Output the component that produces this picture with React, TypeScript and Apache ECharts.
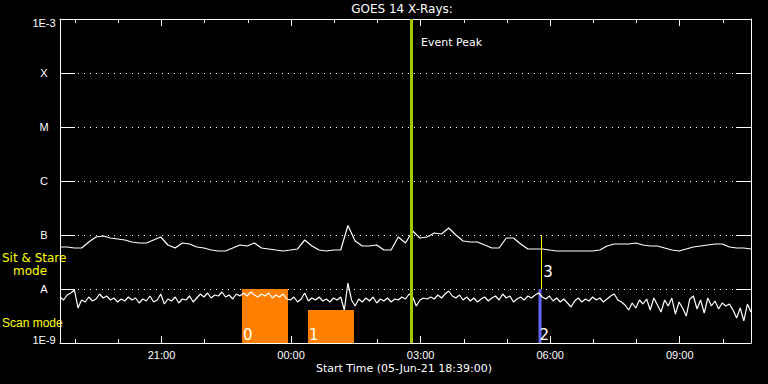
import React, { useEffect, useRef } from "react";
import * as echarts from "echarts";

// Time axis: hours since 05-Jun-21 00:00 (start 18:39, 16 h span)
const START = 18.65;
const END = 34.65;
const LONG_STEP = 1 / 6; // 10 min sampling
const SHORT_STEP = 1 / 12; // 5 min sampling

// GOES 1-8 Å flux, units of 1e-9 W/m²
const longFlux = [
  59.9, 59.9, 57.4, 57.4, 74.2, 91.8, 95.8, 88.0, 84.3, 80.8,
  74.2, 71.1, 71.1, 80.8, 91.8, 65.3, 57.4, 71.1, 68.1, 59.9,
  57.4, 52.7, 50.5, 50.5, 57.4, 65.3, 62.6, 71.1, 57.4, 55.1,
  52.7, 50.5, 52.7, 55.1, 80.8, 62.6, 52.7, 50.5, 52.7, 52.7,
  150, 77.4, 62.6, 62.6, 65.3, 52.7, 52.7, 91.8, 71.1, 118.6,
  88.0, 91.8, 108.8, 104.3, 134.8, 100, 77.4, 74.2, 74.2, 65.3,
  57.4, 57.4, 88.0, 88.0, 68.1, 55.1, 55.1, 55.1, 52.7, 50.5,
  50.5, 50.5, 50.5, 50.5, 50.5, 52.7, 62.6, 68.1, 68.1, 68.1,
  71.1, 65.3, 62.6, 62.6, 57.4, 52.7, 50.5, 55.1, 59.9, 62.6,
  65.3, 68.1, 68.1, 59.9, 57.4, 57.4, 55.1,
];

// GOES 0.5-4 Å flux, units of 1e-9 W/m²
const shortFlux = [
  7.11, 6.26, 7.74, 8.43, 9.58, 4.45, 6.26, 5.74, 7.11, 5.99,
  6.53, 8.08, 6.81, 7.42, 6.26, 6.81, 5.74, 6.53, 5.99, 7.11,
  6.26, 6.81, 5.51, 6.53, 5.99, 7.42, 5.74, 6.26, 8.08, 5.27,
  6.53, 5.99, 7.11, 5.51, 6.53, 6.26, 7.42, 5.74, 6.81, 8.08,
  7.11, 8.43, 6.81, 7.74, 7.42, 8.80, 7.11, 7.74, 6.53, 8.08,
  7.42, 8.43, 7.42, 8.80, 7.74, 7.11, 8.08, 7.42, 8.43, 6.81,
  7.74, 7.11, 8.08, 6.53, 6.26, 7.11, 5.74, 6.53, 8.43, 5.99,
  6.81, 6.26, 7.11, 5.99, 6.53, 5.74, 6.81, 6.26, 7.11, 4.08,
  12.9, 6.26, 4.84, 6.53, 5.74, 6.81, 5.99, 7.11, 5.51, 6.53,
  5.99, 6.81, 5.74, 6.53, 6.26, 7.11, 6.53, 8.08, 7.11, 4.84,
  6.26, 6.81, 6.53, 7.11, 6.53, 7.74, 6.81, 8.08, 9.18, 7.42,
  6.81, 7.74, 6.26, 7.11, 5.99, 6.81, 5.74, 6.53, 7.11, 5.99,
  6.81, 7.42, 6.26, 8.08, 6.81, 7.42, 5.74, 6.53, 7.11, 6.26,
  7.42, 6.81, 7.74, 8.43, 7.11, 6.53, 7.42, 5.99, 6.81, 5.74,
  6.53, 5.51, 4.64, 5.99, 6.81, 5.74, 6.53, 5.99, 7.11, 6.26,
  6.81, 5.74, 6.53, 7.42, 8.08, 6.26, 5.74, 5.05, 4.08, 5.51,
  4.45, 6.26, 5.27, 6.53, 4.08, 6.81, 5.05, 3.75, 6.26, 4.84,
  6.81, 3.44, 5.74, 4.45, 3.16, 6.53, 7.42, 4.26, 6.26, 3.59,
  6.81, 4.84, 5.99, 4.26, 5.51, 4.84, 5.27, 4.08, 2.90, 4.45,
  2.56, 5.27, 3.75,
];

const yTickLabels = ["1E-9", "A", "B", "C", "M", "X", "1E-3"];
const xMajorHours = [21, 24, 27, 30, 33];
const xTickLabels = ["21:00", "00:00", "03:00", "06:00", "09:00"];
const xMinorHours = [19, 20, 22, 23, 25, 26, 28, 29, 31, 32, 34];

// Scan-mode windows (orange)
const scanLabels = ["0", "1"];
const scanStart = [22.864, 24.392];
const scanEnd = [23.929, 25.457];
const scanTop = [1e-8, 4.08e-9];

const eventPeakHour = 26.777;
// Event 2 (blue bar) and 3 (yellow line)
const event2Start = 29.73;
const event2End = 29.8;
const event2Top = 1e-8;
const event3Hour = 29.794;
const event3Range = [1e-8, 1e-7];
const event3LabelFlux = 2.06e-8;
const eventPeakLabelFlux = 3.6e-4;

const WHITE = "#ffffff";
const YELLOW = "#ffff00";

export default function App() {
  const ref = useRef<HTMLDivElement>(null);

  useEffect(() => {
    if (!ref.current) return;
    const chart = echarts.init(ref.current, undefined, { renderer: "svg" });

    const longData = longFlux.map((v, i) => [START + i * LONG_STEP, v * 1e-9]);
    const shortData = shortFlux.map((v, i) => [START + i * SHORT_STEP, v * 1e-9]);

    const labelFont = "Liberation Sans";
    const baseX = {
      type: "value" as const,
      min: START,
      max: END,
      splitLine: { show: false },
    };

    const yLabel = (v: number) => {
      const e = Math.round(Math.log10(v));
      const idx = e + 9;
      const s = yTickLabels[idx] ?? "";
      if (idx === 6) return "{top|" + s + "}";
      if (idx === 0) return "{bot|" + s + "}";
      return s;
    };

    chart.setOption({
      animation: false,
      backgroundColor: "#000000",
      grid: { left: 60, right: 17, top: 19, bottom: 41 },
      xAxis: [
        {
          ...baseX,
          position: "bottom",
          axisLine: { show: true, lineStyle: { color: WHITE, width: 1 } },
          axisTick: {
            show: true,
            inside: true,
            length: 7,
            customValues: xMajorHours,
            lineStyle: { color: WHITE },
          },
          axisLabel: {
            show: true,
            customValues: xMajorHours,
            formatter: (v: number) => {
              const i = xMajorHours.findIndex((h) => Math.abs(h - v) < 1e-6);
              return i >= 0 ? xTickLabels[i] : "";
            },
            color: WHITE,
            fontFamily: labelFont,
            fontSize: 11,
            margin: 6,
          },
        },
        {
          ...baseX,
          position: "bottom",
          axisLine: { show: false },
          axisTick: {
            show: true,
            inside: true,
            length: 4,
            customValues: xMinorHours,
            lineStyle: { color: WHITE },
          },
          axisLabel: { show: false },
        },
        {
          ...baseX,
          position: "top",
          axisLine: { show: true, lineStyle: { color: WHITE, width: 1 } },
          axisTick: {
            show: true,
            inside: true,
            length: 7,
            customValues: xMajorHours,
            lineStyle: { color: WHITE },
          },
          axisLabel: { show: false },
        },
        {
          ...baseX,
          position: "top",
          axisLine: { show: false },
          axisTick: {
            show: true,
            inside: true,
            length: 4,
            customValues: xMinorHours,
            lineStyle: { color: WHITE },
          },
          axisLabel: { show: false },
        },
      ],
      yAxis: [
        {
          type: "log",
          logBase: 10,
          min: 1e-9,
          max: 1e-3,
          interval: 1,
          splitNumber: 6,
          position: "left",
          axisLine: { show: true, lineStyle: { color: WHITE, width: 1 } },
          axisTick: { show: true, inside: true, length: 15, lineStyle: { color: WHITE } },
          axisLabel: {
            show: true,
            color: WHITE,
            fontFamily: labelFont,
            fontSize: 11,
            align: "center",
            margin: 16,
            formatter: yLabel,
            rich: {
              top: { color: WHITE, fontFamily: labelFont, fontSize: 11, padding: [8, 0, 0, 0] },
              bot: { color: WHITE, fontFamily: labelFont, fontSize: 11, padding: [0, 0, 6, 0] },
            },
          },
          splitLine: {
            show: true,
            lineStyle: { color: WHITE, width: 1, type: [1, 5] },
          },
        },
        {
          type: "log",
          logBase: 10,
          min: 1e-9,
          max: 1e-3,
          interval: 1,
          splitNumber: 6,
          position: "right",
          axisLine: { show: true, lineStyle: { color: WHITE, width: 1 } },
          axisTick: { show: true, inside: true, length: 15, lineStyle: { color: WHITE } },
          axisLabel: { show: false },
          splitLine: { show: false },
        },
      ],
      series: [
        {
          type: "line",
          name: "scan",
          data: [],
          z: 1,
          markArea: {
            silent: true,
            itemStyle: { color: "#ff8000", opacity: 1 },
            label: {
              show: true,
              position: "insideBottomLeft",
              distance: 1,
              color: WHITE,
              fontFamily: "DejaVu Sans",
              fontSize: 15,
            },
            data: scanLabels.map((name, i) => [
              { name, xAxis: scanStart[i], yAxis: 1e-9 },
              { xAxis: scanEnd[i], yAxis: scanTop[i] },
            ]),
          },
        },
        {
          type: "line",
          name: "1-8 A",
          data: longData,
          showSymbol: false,
          z: 2,
          lineStyle: { color: WHITE, width: 1.2 },
          itemStyle: { color: WHITE },
        },
        {
          type: "line",
          name: "0.5-4 A",
          data: shortData,
          showSymbol: false,
          z: 2,
          lineStyle: { color: WHITE, width: 1.2 },
          itemStyle: { color: WHITE },
        },
        {
          type: "line",
          name: "events",
          data: [],
          z: 5,
          markArea: {
            silent: true,
            itemStyle: { color: "#6464ff", opacity: 1 },
            label: {
              show: true,
              position: "insideBottomLeft",
              distance: 1,
              color: WHITE,
              fontFamily: "DejaVu Sans",
              fontSize: 15,
            },
            data: [
              [
                { name: "2", xAxis: event2Start, yAxis: 1e-9 },
                { xAxis: event2End, yAxis: event2Top },
              ],
            ],
          },
          markLine: {
            silent: true,
            symbol: "none",
            label: { show: false },
            data: [
              [
                { coord: [eventPeakHour, 1e-9], lineStyle: { color: "#a2c800", width: 3, type: "solid" } },
                { coord: [eventPeakHour, 1e-3] },
              ],
              [
                { coord: [event3Hour, event3Range[0]], lineStyle: { color: YELLOW, width: 1, type: "solid" } },
                { coord: [event3Hour, event3Range[1]] },
              ],
            ],
          },
          markPoint: {
            silent: true,
            symbol: "circle",
            symbolSize: 0,
            data: [
              {
                coord: [eventPeakHour, eventPeakLabelFlux],
                label: {
                  show: true,
                  position: "right",
                  distance: 10,
                  formatter: "Event Peak",
                  color: WHITE,
                  fontFamily: "DejaVu Sans",
                  fontSize: 11,
                },
              },
              {
                coord: [event3Hour, event3LabelFlux],
                label: {
                  show: true,
                  position: "right",
                  distance: 2,
                  formatter: "3",
                  color: WHITE,
                  fontFamily: "DejaVu Sans",
                  fontSize: 15,
                },
              },
            ],
          },
        },
      ],
      graphic: [
        {
          type: "text",
          x: 402,
          y: 9,
          style: {
            text: "GOES 14 X-Rays:",
            fill: WHITE,
            font: "12px 'DejaVu Sans'",
            align: "center",
            verticalAlign: "middle",
            textAlign: "center",
            textVerticalAlign: "middle",
          },
        },
        {
          type: "text",
          x: 404,
          y: 368,
          style: {
            text: "Start Time (05-Jun-21 18:39:00)",
            fill: WHITE,
            font: "11px 'DejaVu Sans'",
            align: "center",
            verticalAlign: "middle",
            textAlign: "center",
            textVerticalAlign: "middle",
          },
        },
        {
          type: "text",
          x: 2,
          y: 258,
          style: {
            text: "Sit & Stare",
            fill: YELLOW,
            font: "12px 'DejaVu Sans'",
            align: "left",
            verticalAlign: "middle",
            textAlign: "left",
            textVerticalAlign: "middle",
          },
        },
        {
          type: "text",
          x: 13,
          y: 271,
          style: {
            text: "mode",
            fill: YELLOW,
            font: "12px 'DejaVu Sans'",
            align: "left",
            verticalAlign: "middle",
            textAlign: "left",
            textVerticalAlign: "middle",
          },
        },
        {
          type: "text",
          x: 2,
          y: 323,
          style: {
            text: "Scan mode",
            fill: YELLOW,
            font: "12px 'Liberation Sans'",
            align: "left",
            verticalAlign: "middle",
            textAlign: "left",
            textVerticalAlign: "middle",
          },
        },
      ],
    });

    return () => chart.dispose();
  }, []);

  return (
    <div
      ref={ref}
      style={{ position: "fixed", left: 0, top: 0, width: 768, height: 384, background: "#000" }}
    />
  );
}
